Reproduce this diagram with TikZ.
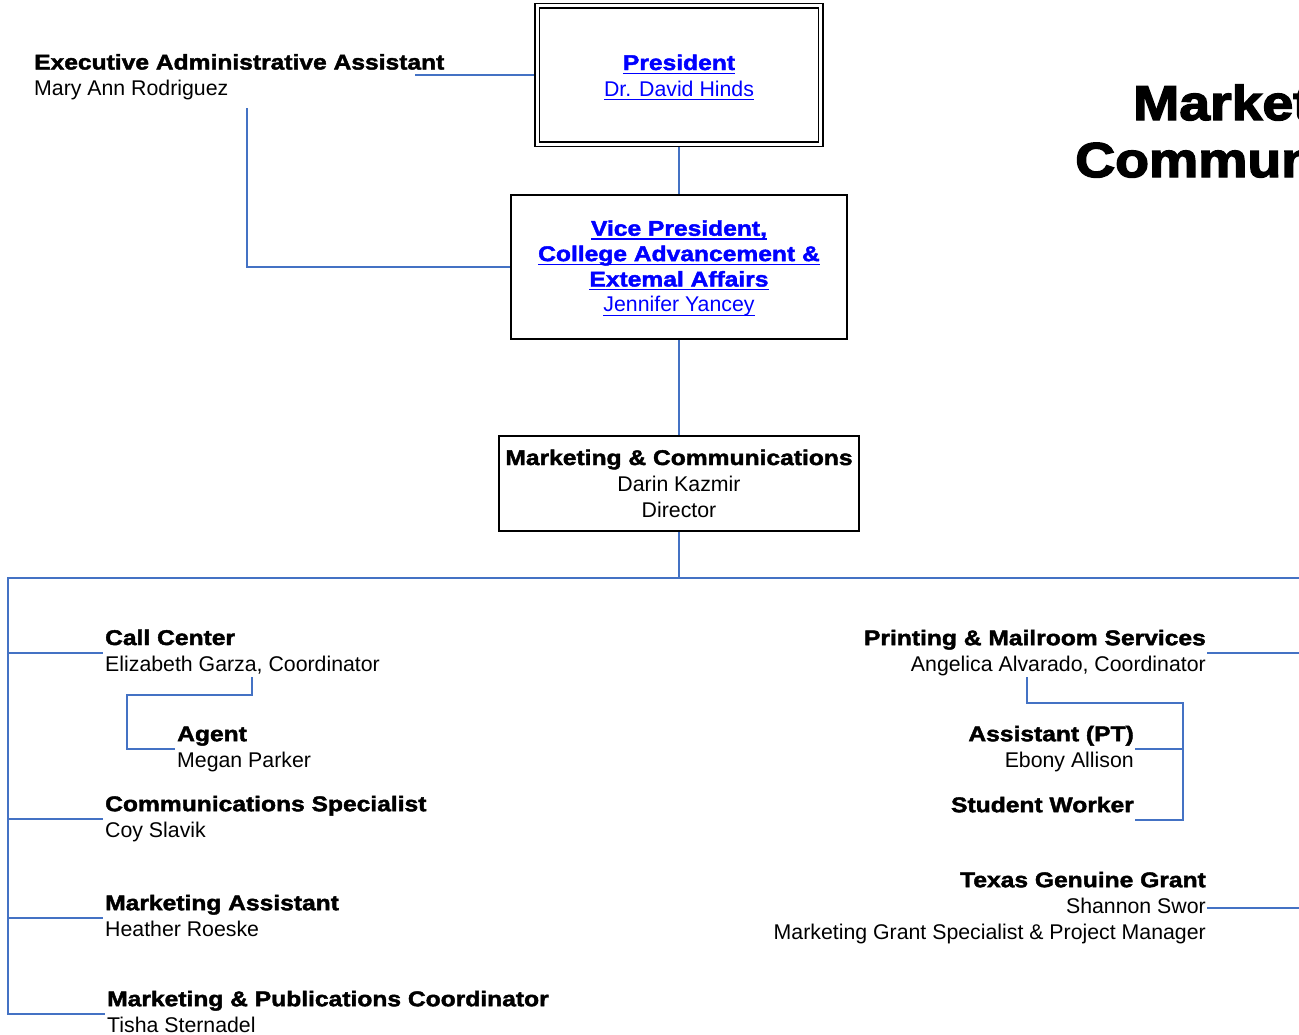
\documentclass[tikz,border=0pt]{standalone}
\usepackage{fontspec}
\setmainfont{Liberation Sans}
\newfontfamily\blkf{Liberation Sans}[BoldFeatures={FakeStretch=1.155,FakeBold=2}]
\newfontfamily\ttlf{Liberation Sans}[BoldFeatures={FakeStretch=1.13,FakeBold=3}]
\newcommand\blk{\blkf\bfseries}
\newcommand\ttl{\ttlf\bfseries}
\newsavebox\ulbox
\newcommand\myul[1]{\sbox\ulbox{#1}\rlap{\rule[-3.9pt]{\wd\ulbox}{1.3pt}}\usebox\ulbox}
\usetikzlibrary{backgrounds}
\definecolor{connc}{RGB}{68,114,196}
\definecolor{linkb}{RGB}{0,0,255}
\tikzset{
  txt/.style={inner sep=0pt, inner xsep=2pt, font=\fontsize{21.3}{26}\selectfont},
  txtr/.style={inner sep=0pt, inner xsep=1pt, font=\fontsize{21.3}{26}\selectfont},
  conn/.style={draw=connc, line width=1.9pt},
  boxnode/.style={draw=black, line width=1.8pt, inner sep=0pt, font=\fontsize{21.3}{26}\selectfont, text height=18pt}
}
\begin{document}
\begin{tikzpicture}[x=1pt,y=-1pt]
\useasboundingbox (0,0) rectangle (1299,1034);

% boxes
\node[boxnode, double=white, double distance=2.8pt, line width=1.7pt,
      minimum width=283.5pt, minimum height=138.25pt, text=linkb, text depth=28pt]
      (pres) at (679,75)
      {\begin{tabular}[t]{@{}c@{}}\myul{\blk President}\\\myul{Dr. David Hinds}\end{tabular}};
\node[boxnode, minimum width=336pt, minimum height=143.3pt, text=linkb,
      font=\fontsize{21.3}{25.4}\selectfont, text height=17.8pt, text depth=80.4pt]
      (vp) at (679,267)
      {\begin{tabular}[t]{@{}c@{}}\myul{\blk Vice President,}\\\myul{\blk College Advancement \&}\\\myul{\blk Extemal Affairs}\\\myul{Jennifer Yancey}\end{tabular}};
\node[boxnode, minimum width=360pt, minimum height=95pt, text depth=54.4pt]
      (mk) at (679,483.2)
      {\begin{tabular}[t]{@{}c@{}}\blk Marketing \& Communications\\Darin Kazmir\\Director\end{tabular}};

% title
\node[anchor=base west, inner sep=0pt, font=\ttl\fontsize{49}{57}\selectfont] (t1) at (1133,120) {Marketing \&};
\node[anchor=base west, inner sep=0pt, font=\ttl\fontsize{49}{57}\selectfont] (t2) at (1075,177) {Communications};

% left entries
\node[txt, anchor=base west] (ex) at (32,69.5)
  {\begin{tabular}[t]{@{}l@{}}\blk Executive Administrative Assistant\\Mary Ann Rodriguez\end{tabular}};
\node[txt, anchor=base west] (cc) at (103,645)
  {\begin{tabular}[t]{@{}l@{}}\blk Call Center\\Elizabeth Garza, Coordinator\end{tabular}};
\node[txt, anchor=base west] (ag) at (175,741.2)
  {\begin{tabular}[t]{@{}l@{}}\blk Agent\\Megan Parker\end{tabular}};
\node[txt, anchor=base west] (cs) at (103,811.2)
  {\begin{tabular}[t]{@{}l@{}}\blk Communications Specialist\\Coy Slavik\end{tabular}};
\node[txt, anchor=base west] (ma) at (103,910.2)
  {\begin{tabular}[t]{@{}l@{}}\blk Marketing Assistant\\Heather Roeske\end{tabular}};
\node[txt, anchor=base west] (mp) at (105,1006.2)
  {\begin{tabular}[t]{@{}l@{}}\blk Marketing \& Publications Coordinator\\Tisha Sternadel\end{tabular}};

% right entries
\node[txtr, anchor=base east] (pm) at (1207,645.2)
  {\begin{tabular}[t]{@{}r@{}}\blk Printing \& Mailroom Services\\Angelica Alvarado, Coordinator\end{tabular}};
\node[txtr, anchor=base east] (as) at (1135,741.2)
  {\begin{tabular}[t]{@{}r@{}}\blk Assistant (PT)\\Ebony Allison\end{tabular}};
\node[txtr, anchor=base east] (sw) at (1135,812.2)
  {\begin{tabular}[t]{@{}r@{}}\blk Student Worker\end{tabular}};
\node[txtr, anchor=base east] (tg) at (1207,887.2)
  {\begin{tabular}[t]{@{}r@{}}\blk Texas Genuine Grant\\Shannon Swor\\Marketing Grant Specialist \& Project Manager\end{tabular}};

% free ends
\coordinate (exA) at (415,75);
\coordinate (exB) at (247,108);
\coordinate (busL) at (8,578);
\coordinate (busR) at (1312,578);
\coordinate (ccA) at (252,677);
\coordinate (ccB) at (127,695);
\coordinate (pmA) at (1027,677);
\coordinate (pmB) at (1183,703);

\begin{scope}[on background layer]
  \fill[white] (0,0) rectangle (1299,1034);
  \draw[conn] (exA) -- (pres.west);
  \draw[conn] (exB) |- (vp.west);
  \draw[conn] (pres.south) -- (vp.north);
  \draw[conn] (vp.south) -- (mk.north);
  \draw[conn] (mk.south) -- (mk.south |- busL);
  \draw[conn] (busR) -- (busL) -- (busL |- mp.west) -- (mp.west);
  \foreach \n in {cc,cs,ma} \draw[conn] (\n.west -| busL) -- (\n.west);
  \draw[conn] (ccA) |- (ccB) |- (ag.west);
  \draw[conn] (pm.east) -- (pm.east -| busR);
  \draw[conn] (pmA) |- (pmB) |- (sw.south east);
  \draw[conn] (as.east) -- (as.east -| pmB);
  \draw[conn] (tg.east) -- (tg.east -| busR);
\end{scope}
\end{tikzpicture}
\end{document}
